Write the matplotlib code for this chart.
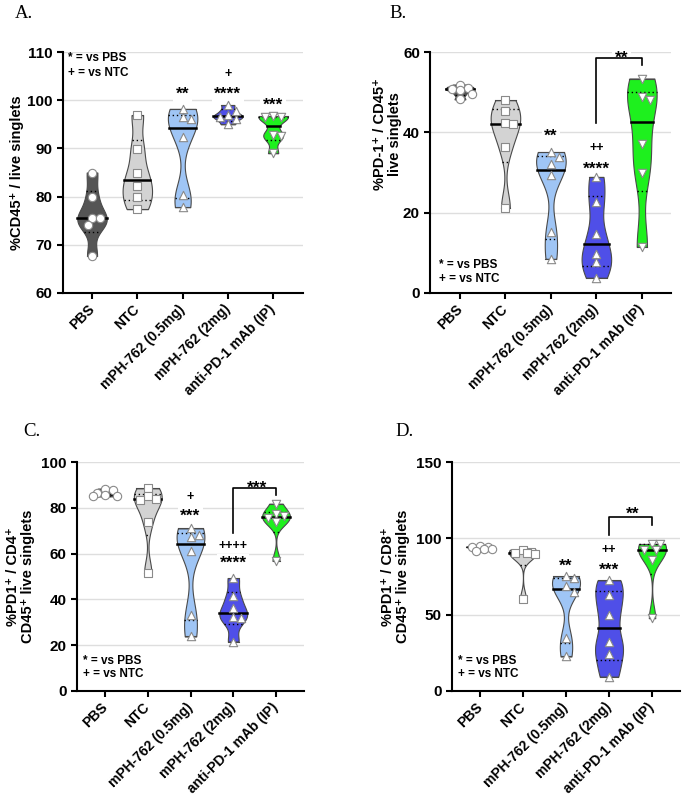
import numpy as np
import matplotlib
matplotlib.use('Agg')
import matplotlib.pyplot as plt

plt.rcParams['font.family'] = ['Liberation Sans', 'DejaVu Sans']
plt.rcParams['font.weight'] = 'bold'

groups = ['PBS', 'NTC', 'mPH-762 (0.5mg)', 'mPH-762 (2mg)', 'anti-PD-1 mAb (IP)']
colors = ['#555555', '#d3d3d3', '#9fc5f5', '#4f4fe8', '#1ef01e']
markers = ['o', 's', '^', '^', 'v']

# Panel A: %CD45+ / live singlets
a_pbs = [85.0, 79.9, 75.6, 75.5, 74.2, 67.7]
a_ntc = [96.9, 89.9, 84.8, 82.2, 79.9, 77.4]
a_low = [98.2, 96.5, 96.2, 92.4, 80.4, 77.8]
a_high = [99.0, 97.8, 96.9, 96.6, 96.0, 95.0]
a_ab = [96.7, 96.5, 96.5, 92.7, 92.6, 89.0]

# Panel B: %PD-1+ / CD45+ live singlets
b_pbs = [51.9, 51.0, 50.9, 50.5, 49.5, 48.2]
b_ntc = [48.0, 45.2, 42.2, 42.0, 36.3, 21.2]
b_low = [35.1, 33.9, 32.0, 29.3, 15.2, 8.5]
b_high = [28.9, 22.7, 14.8, 9.8, 7.7, 3.8]
b_ab = [53.4, 48.8, 48.1, 37.2, 30.0, 11.5]

# Panel C: %PD1+ / CD4+ CD45+ live singlets
c_pbs = [88.4, 87.6, 86.4, 85.8, 85.3, 85.0]
c_ntc = [88.5, 85.0, 84.0, 83.4, 73.9, 51.6]
c_low = [71.0, 68.3, 67.2, 61.0, 33.3, 23.8]
c_high = [49.3, 41.3, 36.2, 32.1, 31.8, 21.6]
c_ab = [81.8, 77.2, 76.5, 75.5, 73.9, 56.8]

# Panel D: %PD1+ / CD8+ CD45+ live singlets
d_pbs = [95.0, 94.5, 94.2, 93.3, 92.8, 91.9]
d_ntc = [92.5, 91.0, 90.5, 90.3, 90.0, 60.5]
d_low = [75.1, 74.0, 68.5, 64.6, 34.6, 22.6]
d_high = [72.5, 63.1, 49.9, 32.4, 24.1, 9.4]
d_ab = [96.3, 96.3, 92.6, 92.6, 86.1, 47.7]

panels = [
    dict(letter='A.', data=[a_pbs, a_ntc, a_low, a_high, a_ab],
         ylabel='%CD45\u207a / live singlets', ylim=(60, 110), yticks=[60, 70, 80, 90, 100, 110],
         box=(62.6, 52, 240, 241), lblx=-0.16, lbly=0.5,
         legend=[(-0.53, 108.8), (-0.53, 105.6)],
         sig=[(2, '**', 102.3), (3, '+', 105.5), (3, '****', 102.3), (4, '***', 100.1)],
         bracket=None, letterpos=(15, 13)),
    dict(letter='B.', data=[b_pbs, b_ntc, b_low, b_high, b_ab],
         ylabel='%PD-1\u207a / CD45\u207a\nlive singlets', ylim=(0, 60), yticks=[0, 20, 40, 60],
         box=(430.4, 52, 241, 241), lblx=-0.118, lbly=0.66,
         legend=[(-0.47, 6.9), (-0.47, 3.6)],
         sig=[(2, '**', 40.3), (3, '++', 36.3), (3, '****', 32.0)],
         bracket=(42.2, 58.6, 56.7, '**', 59.8), letterpos=(389, 13)),
    dict(letter='C.', data=[c_pbs, c_ntc, c_low, c_high, c_ab],
         ylabel='%PD1\u207a / CD4\u207a\nCD45\u207a live singlets', ylim=(0, 100), yticks=[0, 20, 40, 60, 80, 100],
         box=(77.2, 462, 226.6, 229), lblx=-0.186, lbly=0.5,
         legend=[(-0.51, 13.1), (-0.51, 7.3)],
         sig=[(2, '+', 85.2), (2, '***', 78.6), (3, '++++', 63.8), (3, '****', 57.9)],
         bracket=(68.9, 88.5, 85.6, '***', 90.9), letterpos=(23, 431)),
    dict(letter='D.', data=[d_pbs, d_ntc, d_low, d_high, d_ab],
         ylabel='%PD1\u207a / CD8\u207a\nCD45\u207a live singlets', ylim=(0, 150), yticks=[0, 50, 100, 150],
         box=(452, 462, 228, 229), lblx=-0.184, lbly=0.5,
         legend=[(-0.51, 19.7), (-0.51, 10.9)],
         sig=[(2, '**', 85.4), (3, '++', 92.6), (3, '***', 82.8)],
         bracket=(102.3, 113.9, 109.0, '**', 119.2), letterpos=(395, 431)),
]

W, H = 684, 796
fig = plt.figure(figsize=(W / 100, H / 100), dpi=100)

STAR_FS = 12.5
PLUS_FS = 9


def kde_shape(vals, n=300, bw_scale=0.55):
    v = np.asarray(vals, float)
    ys = np.linspace(v.min(), v.max(), n)
    sd = v.std(ddof=1)
    bw = bw_scale * sd * len(v) ** (-0.2)
    dens = np.exp(-0.5 * ((ys[:, None] - v[None, :]) / bw) ** 2).sum(1)
    return ys, dens / dens.max()


def swarm_offsets(ax, vals, diam_px, max_units=0.3):
    v = np.asarray(vals, float)
    pts = ax.transData.transform(np.column_stack([np.zeros_like(v), v]))
    ypx = pts[:, 1]
    xpx_per_unit = ax.transData.transform([[1, 0]])[0, 0] - ax.transData.transform([[0, 0]])[0, 0]
    max_px = max_units * xpx_per_unit
    order = np.argsort(-v)
    placed = []
    offs = np.zeros(len(v))
    cands = [0.0]
    for k in range(1, 8):
        cands += [k * diam_px * 0.5, -k * diam_px * 0.5]
    cands = [c for c in cands if abs(c) <= max_px]
    for i in order:
        best, best_d = 0.0, -1
        for c in cands:
            dmin = min([np.hypot(c - px, ypx[i] - py) for px, py in placed] + [1e9])
            if dmin >= diam_px * 0.95:
                best = c
                break
            if dmin > best_d:
                best_d, best = dmin, c
        offs[i] = best
        placed.append((best, ypx[i]))
    return offs / xpx_per_unit


def sig_text(ax, x, y, txt):
    if set(txt) == {'*'}:
        fs = STAR_FS
        dy = -0.30 * fs
    else:
        fs = PLUS_FS
        dy = -0.05 * fs
    ax.annotate(txt, (x, y), xytext=(0, dy), textcoords='offset points', ha='center', va='center',
                fontsize=fs, fontweight='bold', zorder=1.5,
                bbox=dict(boxstyle='square,pad=0.15', facecolor='white', edgecolor='none'))


half = 0.325
for p in panels:
    l, t, w, h = p['box']
    ax = fig.add_axes([l / W, 1 - (t + h) / H, w / W, h / H])
    ax.set_xlim(-0.65, 4.65)
    ax.set_ylim(*p['ylim'])
    ax.set_yticks(p['yticks'])
    ax.set_xticks(range(5))
    ax.set_xticklabels(groups, rotation=45, ha='right', va='center', rotation_mode='anchor', fontsize=10,
                       fontweight='bold')
    ax.tick_params(axis='y', labelsize=11, width=1.5, length=4)
    ax.tick_params(axis='x', width=1.5, length=4, pad=6)
    for lab in ax.get_yticklabels():
        lab.set_fontweight('bold')
    for s in ['top', 'right']:
        ax.spines[s].set_visible(False)
    for s in ['left', 'bottom']:
        ax.spines[s].set_linewidth(1.5)
    ax.yaxis.grid(True, color='#dedede', lw=1, zorder=0.5)
    ax.set_axisbelow(True)
    ax.set_ylabel(p['ylabel'], fontsize=10.5, fontweight='bold', linespacing=1.1)
    ax.yaxis.set_label_coords(p['lblx'], p['lbly'])

    for i, vals in enumerate(p['data']):
        ys, dens = kde_shape(vals)
        hw = half * dens
        ax.fill_betweenx(ys, i - hw, i + hw, facecolor=colors[i], edgecolor='#4a4a4a', lw=0.8, zorder=2)
        ax.plot([i - hw[0], i + hw[0]], [ys[0], ys[0]], color='#4a4a4a', lw=0.8, zorder=2)
        ax.plot([i - hw[-1], i + hw[-1]], [ys[-1], ys[-1]], color='#4a4a4a', lw=0.8, zorder=2)
        med = np.median(vals)
        q1, q3 = np.percentile(vals, [25, 75], method='weibull')
        wm = np.interp(med, ys, hw)
        ax.plot([i - wm, i + wm], [med, med], color='black', lw=1.8, zorder=3)
        for q in (q1, q3):
            wq = np.interp(q, ys, hw)
            ax.plot([i - wq, i + wq], [q, q], color='black', lw=1.0, ls=(0, (1, 2)), zorder=3)
        offs = swarm_offsets(ax, vals, 8.0)
        ax.scatter(i + offs, vals, marker=markers[i], s=36, facecolor='white', edgecolor='#8a8a8a',
                   linewidths=0.8, zorder=4)

    for gi, txt, yv in p['sig']:
        sig_text(ax, gi, yv, txt)

    (x0, y0), (x1, y1) = p['legend']
    ax.text(x0, y0, '* = vs PBS', ha='left', va='center', fontsize=8.5, fontweight='bold')
    ax.text(x1, y1, '+ = vs NTC', ha='left', va='center', fontsize=8.5, fontweight='bold')

    if p['bracket'] is not None:
        lo, top, rlo, txt, ty = p['bracket']
        ax.plot([3, 3, 4, 4], [lo, top, top, rlo], color='black', lw=1.2, zorder=3)
        sig_text(ax, 3.55, ty, txt)

    lx, ly = p['letterpos']
    fig.text(lx / W, 1 - ly / H, p['letter'], family='Liberation Serif', fontweight='normal', fontsize=13.5,
             ha='left', va='center')

fig.savefig('out.png', dpi=100)
